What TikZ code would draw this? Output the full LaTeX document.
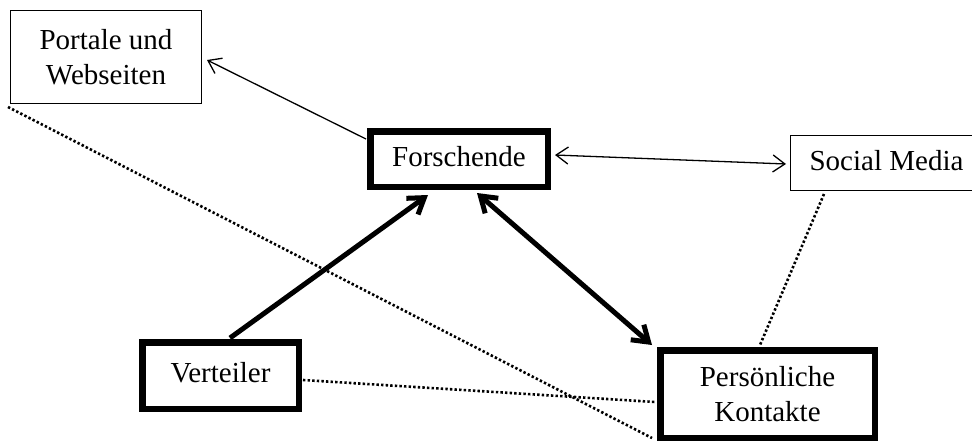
\documentclass[tikz,border=0pt]{standalone}
\usepackage{fontspec}
\setmainfont{Liberation Serif}
\usetikzlibrary{arrows.meta,calc}
\begin{document}
\begin{tikzpicture}[x=1pt,y=-1pt,
  box/.style={draw, line width=1.4pt, align=center, inner sep=0pt,
    font=\fontsize{29}{35}\selectfont},
  oneline/.style={text height=20pt, text depth=6pt},
  heavybox/.style={box, line width=6.5pt},
  thinlink/.style={line width=1.3pt, -{Straight Barb[length=12pt,width=17pt]}},
  thinboth/.style={line width=1.3pt, {Straight Barb[length=12pt,width=17pt]}-{Straight Barb[length=12pt,width=17pt]}},
  thicklink/.style={line width=5pt, -{Straight Barb[length=15pt,width=20pt]}},
  thickboth/.style={line width=5pt, {Straight Barb[length=15pt,width=20pt]}-{Straight Barb[length=15pt,width=20pt]}},
  dots/.style={line width=2.6pt, dash pattern=on 2.4pt off 2.2pt}
]
\useasboundingbox[fill=white] (0,0) rectangle (972,445);

% boxes
\node[box, minimum width=190.6pt, minimum height=92.6pt] (P) at (106,57) {Portale und\\Webseiten};
\node[heavybox, oneline, minimum width=177.5pt, minimum height=55.5pt] (F) at (459,159) {Forschende};
\node[box, oneline, minimum width=191.6pt, minimum height=54.6pt] (S) at (886.5,163) {Social Media};
\node[heavybox, oneline, minimum width=156.5pt, minimum height=66.5pt] (V) at (220.5,375.5) {Verteiler};
\node[heavybox, minimum width=214.5pt, minimum height=87.5pt] (K) at (767.5,394) {Persönliche\\Kontakte};

% directed links
\draw[thinlink] ($(F.west)+(-1,-20)$) -- ($(P.east)+(5,3)$);
\draw[thinboth] ($(F.east)+(4,-4)$) -- ($(S.west)+(-4,1)$);
\draw[thicklink] ($(V.north)+(9.5,-1)$) -- ($(F.south)+(-31,5)$);
\draw[thickboth] ($(F.south)+(18,3)$) -- ($(K.north west)+(-5,-2)$);

% dotted relations
\draw[dots] ($(P.south west)+(-2,3)$) -- ($(K.south west)+(-5,-3)$);
\draw[dots] ($(V.east)+(1,4.5)$) -- ($(K.west)+(-2,8)$);
\draw[dots] ($(S.south)+(-62.5,3)$) -- ($(K.north)+(-7.5,-2)$);
\end{tikzpicture}
\end{document}
